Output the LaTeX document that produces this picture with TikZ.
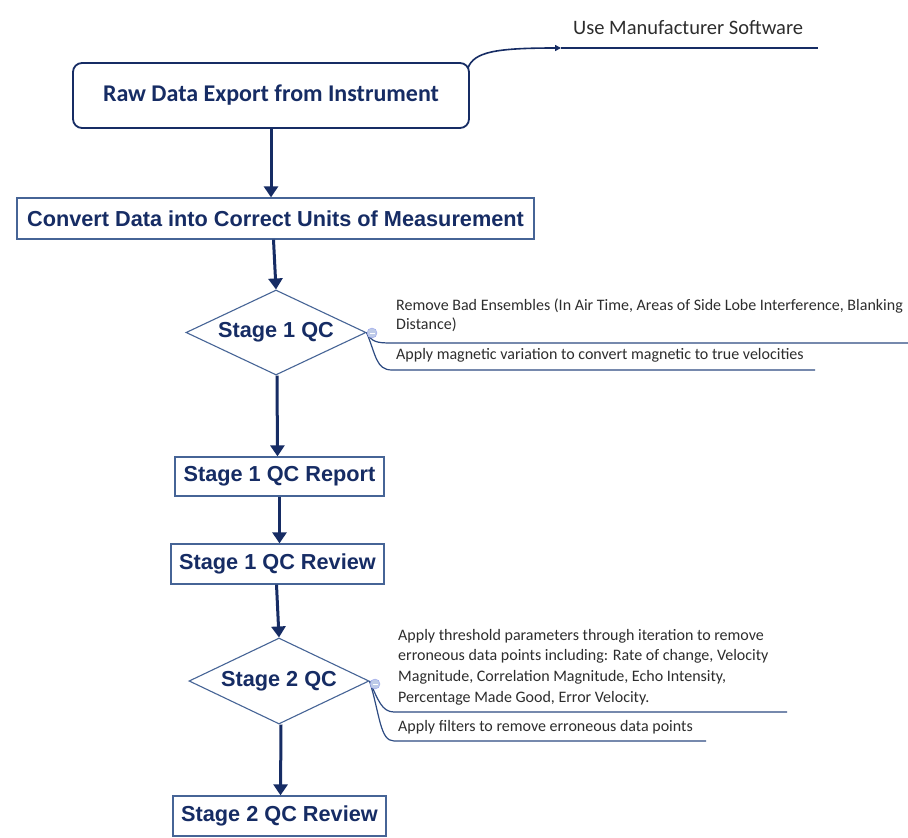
\documentclass[tikz,border=0pt]{standalone}
\usepackage{fontspec}
\setmainfont{Carlito}
\newfontfamily\arialfont{Liberation Sans}
\usetikzlibrary{shapes.geometric,arrows.meta}
\definecolor{navy}{RGB}{22,44,100}
\definecolor{boxline}{RGB}{70,100,150}
\definecolor{branch}{RGB}{45,75,130}
\definecolor{sidetext}{RGB}{45,45,45}
\definecolor{minusfill}{RGB}{190,203,232}
\tikzset{
  mainbox/.style={draw=boxline, line width=1.3pt, rectangle, inner sep=0pt, text=navy, font=\arialfont\bfseries\fontsize{21.7}{25}\selectfont},
  rawbox/.style={draw=navy, line width=1.8pt, rounded corners=9pt, inner sep=0pt, text=navy, font=\bfseries\fontsize{24}{28}\selectfont},
  decision/.style={draw=boxline, line width=1.1pt, diamond, aspect=2.1, inner sep=0pt, text=navy, font=\arialfont\bfseries\fontsize{21.7}{25}\selectfont},
  flow/.style={draw=navy, line width=3pt, -{Triangle[width=14pt,length=11pt]}},
  branchline/.style={draw=branch, line width=1.2pt},
  sidelabel/.style={text=sidetext, anchor=west, align=left, inner sep=0pt, font=\fontsize{16}{20.6}\selectfont},
  minusdot/.style={circle, fill=minusfill, draw=minusfill!80!blue, line width=0.4pt, minimum size=10pt, inner sep=0pt}
}
\begin{document}
\begin{tikzpicture}[x=1pt,y=-1pt]
\useasboundingbox (0,0) rectangle (908,838);
\fill[white] (0,0) rectangle (908,838);

% main nodes
\node[rawbox, minimum width=396pt, minimum height=65pt] (raw) at (271,95.5) {Raw Data Export from Instrument};
\node[mainbox, minimum width=517pt, minimum height=41pt] (conv) at (275.5,218.5) {Convert Data into Correct Units of Measurement};
\node[decision, minimum width=180pt, minimum height=85pt] (d1) at (276,332.5) {Stage 1 QC};
\node[mainbox, minimum width=209pt, minimum height=39pt] (rep1) at (279.5,476.5) {Stage 1 QC Report};
\node[mainbox, minimum width=213pt, minimum height=40pt] (rev1) at (277.5,564) {Stage 1 QC Review};
\node[decision, minimum width=180pt, minimum height=86pt] (d2) at (279,681) {Stage 2 QC};
\node[mainbox, minimum width=213pt, minimum height=40pt] (rev2) at (279.5,816) {Stage 2 QC Review};

% flow arrows
\draw[flow] (raw.south) -- ([xshift=-4.5pt]conv.north);
\draw[flow] ([xshift=-2pt]conv.south) -- (d1.north);
\draw[flow] ([xshift=1pt]d1.south) -- ([xshift=-2pt]rep1.north);
\draw[flow] (rep1.south) -- ([xshift=2pt]rev1.north);
\draw[flow] ([xshift=-1pt]rev1.south) -- (d2.north);
\draw[flow] ([xshift=2pt]d2.south) -- ([xshift=1pt]rev2.north);

% Use Manufacturer Software branch
\coordinate (umtip) at (561,48);
\coordinate (umend) at (818,48);
\node[sidelabel, font=\fontsize{20.5}{24}\selectfont] (um) at (573,28) {Use Manufacturer Software};
\draw[draw=navy, line width=1.6pt, -{Triangle[width=6pt,length=6pt]}] ([xshift=-2pt,yshift=-6pt]raw.north east) .. controls (474,52) and (495,48) .. (umtip);
\draw[draw=navy, line width=1.6pt] (umtip) -- (umend);

% Stage 1 QC branches
\node[sidelabel, font=\fontsize{16}{19.5}\selectfont] (s1a) at (396,315.5) {Remove Bad Ensembles (In Air Time, Areas of Side Lobe Interference, Blanking\\Distance)};
\node[sidelabel] (s1b) at (396,355) {Apply magnetic variation to convert magnetic to true velocities};
\coordinate (s1aend) at (910,343);
\coordinate (s1bend) at (815,370);
\draw[branchline] (d1.east) .. controls (372,342) and (376,343) .. (392,343) -- (s1aend);
\draw[branchline] (d1.east) .. controls (376,355) and (376,370) .. (392,370) -- (s1bend);
\node[minusdot] (m1) at (372,333) {};
\draw[draw=white, line width=0.8pt] ([xshift=-2.5pt]m1.center) -- ([xshift=2.5pt]m1.center);

% Stage 2 QC branches
\node[sidelabel] (s2a) at (398,667) {Apply threshold parameters through iteration to remove\\erroneous data points including: Rate of change, Velocity\\Magnitude, Correlation Magnitude, Echo Intensity,\\Percentage Made Good, Error Velocity.};
\node[sidelabel] (s2b) at (398,727) {Apply filters to remove erroneous data points};
\coordinate (s2aend) at (787,712);
\coordinate (s2bend) at (706,741);
\draw[branchline] (d2.east) .. controls (378,700) and (382,712) .. (394,712) -- (s2aend);
\draw[branchline] (d2.east) .. controls (380,715) and (380,741) .. (394,741) -- (s2bend);
\node[minusdot] (m2) at (375,684) {};
\draw[draw=white, line width=0.8pt] ([xshift=-2.5pt]m2.center) -- ([xshift=2.5pt]m2.center);
\end{tikzpicture}
\end{document}
